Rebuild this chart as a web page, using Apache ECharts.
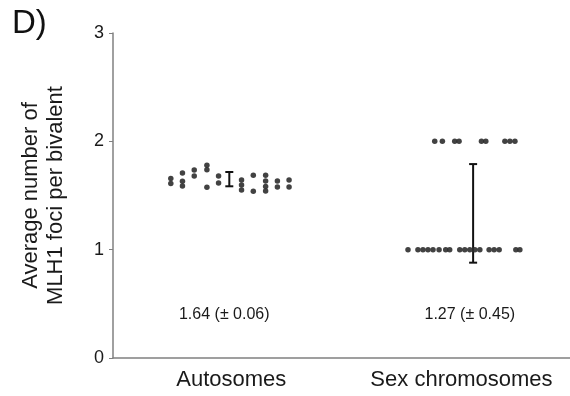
<!DOCTYPE html>
<html>
<head>
<meta charset="utf-8">
<script src="https://cdn.jsdelivr.net/npm/echarts@6/dist/echarts.min.js"></script>
<style>
  html, body { margin: 0; padding: 0; background: #fff; }
  #chart { width: 570px; height: 396px; }
</style>
</head>
<body>
<div id="chart"></div>
<script>
// groups on the hidden x scale: Autosomes ~1, Sex chromosomes ~3
const categories = ['Autosomes', 'Sex chromosomes'];
const categoryPos = [1.035, 3.05];

// autosome foci per cell: [x, value]
const autosomeDots = [
  [0.506, 1.657], [0.506, 1.611],
  [0.608, 1.708], [0.608, 1.631], [0.608, 1.588],
  [0.711, 1.735], [0.711, 1.680],
  [0.822, 1.779], [0.822, 1.738], [0.822, 1.576],
  [0.924, 1.680], [0.924, 1.615],
  [1.125, 1.643], [1.125, 1.597], [1.125, 1.551],
  [1.228, 1.686], [1.228, 1.539],
  [1.336, 1.686], [1.336, 1.634], [1.336, 1.583], [1.336, 1.542],
  [1.439, 1.634], [1.439, 1.578],
  [1.541, 1.643], [1.541, 1.578]
];

// sex chromosome foci: x positions at value 2 and at value 1
const sexTopX = [2.816, 2.883, 2.991, 3.029, 3.225, 3.263, 3.430, 3.474, 3.518];
const sexBottomX = [2.582, 2.669, 2.713, 2.757, 2.801, 2.854, 2.912, 2.947, 3.035,
  3.079, 3.123, 3.167, 3.211, 3.292, 3.336, 3.380, 3.526, 3.561];

// error bars: [x, low, high]
const errorBars = [
  [1.018, 1.585, 1.717],
  [3.152, 0.88, 1.79]
];

// mean (± sd) labels: [x, y, text]
const meanLabels = [
  [0.974, 0.40, '1.64 (± 0.06)'],
  [3.123, 0.40, '1.27 (± 0.45)']
];

const yTicks = [0, 1, 2, 3];
const font = '"Liberation Sans", Arial, Helvetica, sans-serif';
const dotColor = '#2e2e2e';

const sexDots = sexTopX.map(x => [x, 2]).concat(sexBottomX.map(x => [x, 1]));

const chart = echarts.init(document.getElementById('chart'));
chart.setOption({
  animation: false,
  grid: { left: 113, right: 0, top: 33, bottom: 38 },
  graphic: [{
    type: 'text', left: 12, top: 7,
    style: { text: 'D)', font: '33px ' + font, fill: '#111' }
  }],
  xAxis: {
    type: 'value', min: 0, max: 4,
    splitLine: { show: false },
    axisTick: { show: false },
    axisLine: { show: true, onZero: false, lineStyle: { color: '#808080', width: 1.5 } },
    axisLabel: {
      customValues: categoryPos,
      margin: 11,
      fontSize: 22, fontFamily: font, color: '#1a1a1a',
      formatter: v => {
        const i = categoryPos.findIndex(p => Math.abs(p - v) < 0.01);
        return i >= 0 ? categories[i] : '';
      }
    }
  },
  yAxis: {
    type: 'value', min: 0, max: 3, interval: 1,
    splitLine: { show: false },
    axisLine: { show: true, lineStyle: { color: '#808080', width: 1.5 } },
    axisTick: { show: true, length: 4, lineStyle: { color: '#808080' } },
    axisLabel: {
      margin: 9, fontSize: 18, fontFamily: font, color: '#1a1a1a',
      formatter: v => yTicks.includes(v) ? String(v) : ''
    },
    name: 'Average number of\nMLH1 foci per bivalent',
    nameLocation: 'middle',
    nameGap: 45,
    nameTextStyle: { fontSize: 22, fontFamily: font, color: '#1a1a1a', lineHeight: 25 }
  },
  series: [
    {
      type: 'scatter', data: autosomeDots, symbolSize: 5.5,
      itemStyle: { color: dotColor, opacity: 0.9 }, silent: true
    },
    {
      type: 'scatter', data: sexDots, symbolSize: 5.5,
      itemStyle: { color: dotColor, opacity: 0.9 }, silent: true
    },
    {
      type: 'custom', data: errorBars, silent: true,
      renderItem: (params, api) => {
        const x = api.value(0);
        const lo = api.coord([x, api.value(1)]);
        const hi = api.coord([x, api.value(2)]);
        const w = 4;
        const style = { stroke: '#111', lineWidth: 2 };
        return {
          type: 'group',
          children: [
            { type: 'line', shape: { x1: lo[0], y1: lo[1], x2: hi[0], y2: hi[1] }, style },
            { type: 'line', shape: { x1: lo[0] - w, y1: lo[1], x2: lo[0] + w, y2: lo[1] }, style },
            { type: 'line', shape: { x1: hi[0] - w, y1: hi[1], x2: hi[0] + w, y2: hi[1] }, style }
          ]
        };
      }
    },
    {
      type: 'custom', silent: true,
      data: meanLabels,
      renderItem: (params, api) => {
        const p = api.coord([api.value(0), api.value(1)]);
        return {
          type: 'text',
          x: p[0], y: p[1],
          style: {
            text: meanLabels[params.dataIndex][2],
            align: 'center', verticalAlign: 'middle',
            font: '16px ' + font, fill: '#1a1a1a'
          }
        };
      }
    }
  ]
});
</script>
</body>
</html>
